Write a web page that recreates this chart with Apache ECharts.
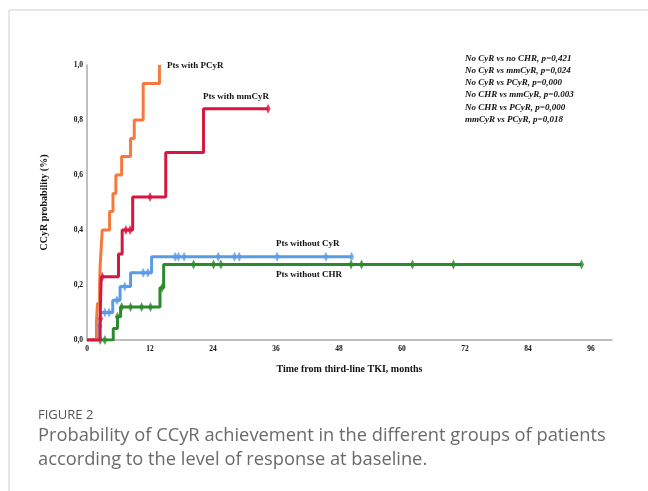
<!DOCTYPE html>
<html>
<head>
<meta charset="utf-8">
<script src="https://cdn.jsdelivr.net/npm/echarts@6/dist/echarts.min.js"></script>
<style>
  html, body { margin:0; padding:0; background:#fff; }
  #chart { width:648px; height:491px; }
</style>
</head>
<body>
<div id="chart"></div>
<script>
// axis ticks
const xTicks = [0, 12, 24, 36, 48, 60, 72, 84, 96];
const yTicks = [0, 0.2, 0.4, 0.6, 0.8, 1.0];

// Pts with PCyR (orange)
const pcyrT = [0, 1.8, 2.0, 2.4, 2.5, 2.7, 2.9, 4.3, 4.95, 5.5, 6.6, 8.3, 9.0, 10.7, 13.8];
const pcyrP = [0, 0.067, 0.133, 0.2, 0.267, 0.333, 0.40, 0.467, 0.533, 0.60, 0.667, 0.733, 0.80, 0.933, 1.0];
const pcyrCens = [];

// Pts with mmCyR (red)
const mmT = [0, 2.5, 2.7, 6.0, 6.7, 8.7, 15.0, 22.2, 34.5];
const mmP = [0, 0.077, 0.23, 0.313, 0.40, 0.52, 0.682, 0.841, 0.841];
const mmCens = [2.6, 2.9, 7.4, 8.2, 12.0, 34.5];

// Pts without CyR (blue)
const noCyrT = [0, 2.4, 2.6, 4.9, 6.3, 8.3, 12.3, 50.4];
const noCyrP = [0, 0.05, 0.10, 0.145, 0.195, 0.245, 0.303, 0.303];
const noCyrCens = [2.45, 3.4, 4.2, 5.7, 7.2, 10.7, 11.6, 16.8, 17.4, 18.5, 25.0, 28.1, 29.0, 36.2, 45.5, 50.4];

// Pts without CHR (green)
const noChrT = [0, 5.0, 5.8, 6.4, 13.9, 14.6, 94.2];
const noChrP = [0, 0.042, 0.085, 0.12, 0.19, 0.275, 0.275];
const noChrCens = [2.5, 3.4, 5.8, 6.6, 8.3, 10.4, 12.1, 14.3, 20.3, 24.1, 25.5, 50.3, 52.3, 62.0, 69.8, 94.2];

const pValues = [
  "No CyR vs no CHR, p=0,421",
  "No CyR vs mmCyR, p=0,024",
  "No CyR vs PCyR, p=0,000",
  "No CHR vs mmCyR, p=0.003",
  "No CHR vs PCyR, p=0,000",
  "mmCyR vs PCyR, p=0,018"
];

const serif = '"Liberation Serif", "DejaVu Serif", serif';

// value of a step curve at time t
function stepAt(ts, ps, t) {
  let v = ps[0];
  for (let i = 0; i < ts.length; i++) if (ts[i] <= t) v = ps[i];
  return v;
}

function curve(name, ts, ps, cens, color) {
  return [
    { name, type:"line", step:"end", symbol:"none", data: ts.map((t,i)=>[t, ps[i]]),
      lineStyle:{ color, width:3 }, itemStyle:{ color } },
    { name: name+" cens", type:"scatter", symbol:"diamond", symbolSize:[5,10],
      data: cens.map(t=>[t, stepAt(ts, ps, t)]), itemStyle:{ color } }
  ];
}

const chart = echarts.init(document.getElementById("chart"));
chart.setOption({
  animation:false,
  backgroundColor:"#fff",
  grid:{ left:87, top:65, width:525, height:275 },
  xAxis:{
    type:"value", min:0, max:100, interval:12,
    axisLine:{ show:true, lineStyle:{ color:"#aaa", width:1.5 } },
    axisTick:{ show:false }, splitLine:{ show:false },
    axisLabel:{ showMaxLabel:false, fontFamily:serif, fontWeight:"bold", fontSize:7.5, color:"#111", margin:5,
      formatter: v => xTicks.includes(v) ? String(v) : "" },
    name:"Time from third-line TKI, months", nameLocation:"middle", nameGap:24,
    nameTextStyle:{ fontFamily:serif, fontWeight:"bold", fontSize:10, color:"#111" }
  },
  yAxis:{
    type:"value", min:0, max:1, interval:0.2,
    axisLine:{ show:true, lineStyle:{ color:"#aaa", width:1.5 } },
    axisTick:{ show:false }, splitLine:{ show:false },
    axisLabel:{ fontFamily:serif, fontWeight:"bold", fontSize:7.5, color:"#111", margin:4,
      formatter: v => yTicks.some(y=>Math.abs(y-v)<1e-6) ? v.toFixed(1).replace(".", ",") : "" },
    name:"CCyR probability (%)", nameLocation:"middle", nameGap:38, nameRotate:90,
    nameTextStyle:{ fontFamily:serif, fontWeight:"bold", fontSize:10, color:"#111" }
  },
  series:[
    ...curve("Pts without CHR", noChrT, noChrP, noChrCens, "#2b8a2b"),
    ...curve("Pts without CyR", noCyrT, noCyrP, noCyrCens, "#5a9be8"),
    ...curve("Pts with PCyR", pcyrT, pcyrP, pcyrCens, "#f5793a"),
    ...curve("Pts with mmCyR", mmT, mmP, mmCens, "#d8173f")
  ],
  graphic:[
    // frame
    { type:"line", shape:{ x1:9, y1:10, x2:648, y2:10 }, style:{ stroke:"#cfcfcf", lineWidth:1 } },
    { type:"line", shape:{ x1:9, y1:10, x2:9, y2:491 }, style:{ stroke:"#cfcfcf", lineWidth:1 } },
    // curve labels
    { type:"text", left:167, top:61, style:{ text:"Pts with PCyR", font:"bold 9px "+serif, fill:"#111" } },
    { type:"text", left:203, top:92, style:{ text:"Pts with mmCyR", font:"bold 9px "+serif, fill:"#111" } },
    { type:"text", left:276, top:239, style:{ text:"Pts without CyR", font:"bold 9px "+serif, fill:"#111" } },
    { type:"text", left:276, top:270, style:{ text:"Pts without CHR", font:"bold 9px "+serif, fill:"#111" } },
    // p-values
    ...pValues.map((t,i)=>({ type:"text", left:465, top:54+i*12.2,
      style:{ text:t, font:"italic bold 9px "+serif, fill:"#111" } })),
    // caption
    { type:"text", left:38, top:409, style:{ text:"FIGURE 2", font:"13px 'Open Sans'", fill:"#555" } },
    { type:"text", left:38, top:427, style:{ text:"Probability of CCyR achievement in the different groups of patients", font:"18.3px 'Open Sans'", fill:"#6a6a6a" } },
    { type:"text", left:38, top:451, style:{ text:"according to the level of response at baseline.", font:"18.3px 'Open Sans'", fill:"#6a6a6a" } }
  ]
});
</script>
</body>
</html>
